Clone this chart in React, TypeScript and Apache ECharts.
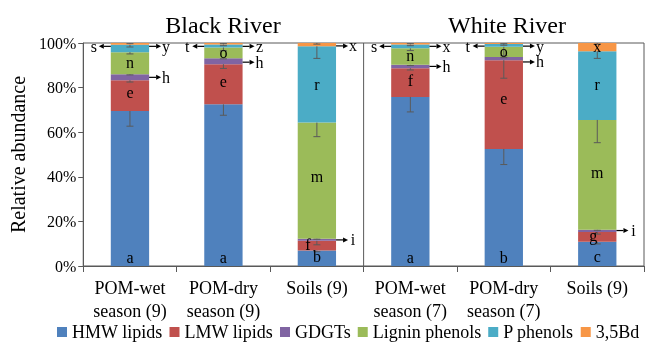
import React, { useEffect, useRef } from 'react';
import * as echarts from 'echarts';

const categories = ['POM-wet\nseason (9)', 'POM-dry\nseason (9)', 'Soils (9)', 'POM-wet\nseason (7)', 'POM-dry\nseason (7)', 'Soils (9)'];
const riverTitles = ['Black River', 'White River'];
const seriesNames = ['HMW lipids', 'LMW lipids', 'GDGTs', 'Lignin phenols', 'P phenols', '3,5Bd'];
const seriesColors = ['#4F81BD', '#C0504D', '#8064A2', '#9BBB59', '#4BACC6', '#F79646'];

const hmwLipids = [69.5, 72.5, 6.9, 75.8, 52.5, 10.9];
const lmwLipids = [13.8, 18.0, 4.4, 12.9, 39.8, 4.4];
const gdgts = [2.7, 2.7, 0.9, 1.5, 1.4, 0.9];
const ligninPhenols = [9.9, 4.8, 52.1, 7.4, 4.6, 49.3];
const pPhenols = [3.3, 1.3, 34.2, 1.7, 1.2, 30.8];
const bd35 = [0.8, 0.7, 1.5, 0.7, 0.5, 3.7];

const hmwErr = [6.8, 4.9, 0.5, 6.7, 7.0, 1.0];
const lmwErr = [0.8, 1.9, 1.8, 0.8, 8.1, 1.0];
const gdgtErr = [0.3, 0.3, 0.2, 0.3, 0.3, 0.2];
const ligninErr = [0.8, 1.5, 6.3, 1.0, 4.0, 10.2];
const pPhenolErr = [1.0, 0.5, 5.4, 0.5, 0.5, 3.2];
const bdErr = [0.3, 0.3, 0.5, 0.3, 0.3, 0.5];

const yTickValues = [0, 20, 40, 60, 80, 100];

// letters inside bars: [category index, y value, letter]
const inBarLetters: [number, number, string][] = [
  [0, 4, 'a'], [0, 77.8, 'e'], [0, 91.3, 'n'],
  [1, 4, 'a'], [1, 82.6, 'e'], [1, 95.8, 'o'],
  [2, 4.2, 'b'], [2, 9.5, 'f'], [2, 40.2, 'm'], [2, 81.5, 'r'],
  [3, 4, 'a'], [3, 83, 'f'], [3, 94.3, 'n'],
  [4, 4, 'b'], [4, 75.1, 'e'], [4, 96, 'o'],
  [5, 4.2, 'c'], [5, 13.5, 'g'], [5, 41.8, 'm'], [5, 81.5, 'r'], [5, 98.5, 'x'],
];
// small horizontal nudges (px) for crowded letters, keyed by "category-letter"
const letterNudge: Record<string, number> = { '2-f': -9, '5-g': -4 };

// letters outside bars with arrows: [category index, y value, letter, side]
const arrowLetters: [number, number, string, string][] = [
  [0, 98.5, 's', 'L'], [0, 98.5, 'y', 'R'], [0, 84.6, 'h', 'R'],
  [1, 98.5, 't', 'L'], [1, 98.5, 'z', 'R'], [1, 91.4, 'h', 'R'],
  [2, 98.7, 'x', 'R'], [2, 11.7, 'i', 'R'],
  [3, 98.5, 's', 'L'], [3, 98.5, 'x', 'R'], [3, 89.5, 'h', 'R'],
  [4, 98.6, 't', 'L'], [4, 98.6, 'y', 'R'], [4, 91.5, 'h', 'R'],
  [5, 15.9, 'i', 'R'],
];

const FONT = '"Liberation Serif", "Times New Roman", serif';
const BAR_RATIO = 0.41;

export default function App() {
  const ref = useRef<HTMLDivElement>(null);
  useEffect(() => {
    if (!ref.current) return;
    const chart = echarts.init(ref.current, null, { renderer: 'svg' });
    const values = [hmwLipids, lmwLipids, gdgts, ligninPhenols, pPhenols, bd35];
    const errs = [hmwErr, lmwErr, gdgtErr, ligninErr, pPhenolErr, bdErr];

    // error bar data: [cat, top, bottom]
    const errData: number[][] = [];
    for (let c = 0; c < categories.length; c++) {
      let cum = 0;
      for (let s = 0; s < values.length; s++) {
        cum += values[s][c];
        errData.push([c, cum, cum - errs[s][c]]);
      }
    }

    const barSeries = seriesNames.map((name, i) => ({
      name,
      type: 'bar',
      stack: 'total',
      barWidth: BAR_RATIO * 100 + '%',
      data: values[i],
      itemStyle: { color: seriesColors[i] },
      z: 2,
    }));

    const textEl = (text: string, x: number, y: number) => ({
      type: 'text',
      x,
      y,
      style: {
        text,
        font: '16px ' + FONT,
        fill: '#000',
        align: 'center',
        verticalAlign: 'middle',
        textAlign: 'center',
        textVerticalAlign: 'middle',
      },
    });

    const option: any = {
      animation: false,
      title: riverTitles.map((t, i) => ({
        text: t,
        left: i === 0 ? 218 : 502,
        top: 8,
        textAlign: 'center',
        textStyle: { fontFamily: FONT, fontSize: 24, fontWeight: 'normal', color: '#000' },
      })),
      grid: {
        left: 76,
        right: 6,
        top: 43,
        bottom: 82,
        show: true,
        borderColor: '#595959',
        borderWidth: 1,
        backgroundColor: 'transparent',
      },
      legend: {
        data: seriesNames,
        left: 52,
        top: 318,
        width: 600,
        icon: 'rect',
        itemWidth: 10,
        itemHeight: 10,
        itemGap: 7,
        textStyle: { fontFamily: FONT, fontSize: 18, color: '#000' },
      },
      xAxis: {
        type: 'category',
        data: categories,
        axisLine: { lineStyle: { color: '#595959' } },
        axisTick: { show: true, length: 6, lineStyle: { color: '#595959' } },
        axisLabel: { fontFamily: FONT, fontSize: 18, color: '#000', lineHeight: 23, margin: 10, interval: 0 },
      },
      yAxis: {
        type: 'value',
        min: yTickValues[0],
        max: yTickValues[yTickValues.length - 1],
        interval: 20,
        name: 'Relative abundance',
        nameLocation: 'middle',
        nameGap: 47,
        nameTextStyle: { fontFamily: FONT, fontSize: 20, color: '#000' },
        axisLine: { show: true, lineStyle: { color: '#595959' } },
        axisTick: { show: true, length: 5, lineStyle: { color: '#595959' } },
        axisLabel: { fontFamily: FONT, fontSize: 16, color: '#000', margin: 7, formatter: '{value}%' },
        splitLine: { show: false },
      },
      series: [
        ...barSeries,
        {
          type: 'custom',
          name: 'errors',
          z: 5,
          silent: true,
          data: errData,
          renderItem: (params: any, api: any) => {
            const c = api.value(0);
            const top = api.coord([c, api.value(1)]);
            const bot = api.coord([c, api.value(2)]);
            const cap = 3.5;
            return {
              type: 'group',
              children: [
                { type: 'line', shape: { x1: top[0], y1: top[1], x2: bot[0], y2: bot[1] }, style: { stroke: '#5a5a5a', lineWidth: 1 } },
                { type: 'line', shape: { x1: bot[0] - cap, y1: bot[1], x2: bot[0] + cap, y2: bot[1] }, style: { stroke: '#5a5a5a', lineWidth: 1 } },
              ],
            };
          },
        },
        {
          type: 'custom',
          name: 'divider',
          z: 6,
          silent: true,
          data: [[3]],
          renderItem: (params: any, api: any) => {
            const band = api.size([1, 0])[0];
            const p0 = api.coord([api.value(0), 0]);
            const p1 = api.coord([api.value(0), 100]);
            const x = p0[0] - band / 2;
            return { type: 'line', shape: { x1: x, y1: p0[1], x2: x, y2: p1[1] }, style: { stroke: '#595959', lineWidth: 1 } };
          },
        },
        {
          type: 'custom',
          name: 'inLetters',
          z: 7,
          silent: true,
          data: inBarLetters.map((d) => [d[0], d[1]]),
          renderItem: (params: any, api: any) => {
            const d = inBarLetters[params.dataIndex];
            const p = api.coord([api.value(0), api.value(1)]);
            const nudge = letterNudge[d[0] + '-' + d[2]] || 0;
            return textEl(d[2], p[0] + nudge, p[1]);
          },
        },
        {
          type: 'custom',
          name: 'arrowLetters',
          z: 7,
          silent: true,
          data: arrowLetters.map((d) => [d[0], d[1]]),
          renderItem: (params: any, api: any) => {
            const d = arrowLetters[params.dataIndex];
            const p = api.coord([api.value(0), api.value(1)]);
            const band = api.size([1, 0])[0];
            const half = (band * BAR_RATIO) / 2;
            const dir = d[3] === 'L' ? -1 : 1;
            const x0 = p[0] + dir * half;
            const x1 = x0 + dir * 12;
            const y = p[1];
            const head = 5;
            return {
              type: 'group',
              children: [
                { type: 'line', shape: { x1: x0, y1: y, x2: x1 - dir * head, y2: y }, style: { stroke: '#000', lineWidth: 1.2 } },
                {
                  type: 'polygon',
                  shape: { points: [[x1, y], [x1 - dir * head, y - 2.5], [x1 - dir * head, y + 2.5]] },
                  style: { fill: '#000' },
                },
                textEl(d[2], x0 + dir * 17, y),
              ],
            };
          },
        },
      ],
    };
    chart.setOption(option);
    return () => chart.dispose();
  }, []);
  return <div ref={ref} style={{ position: 'fixed', left: 0, top: 0, width: 650, height: 348 }} />;
}
